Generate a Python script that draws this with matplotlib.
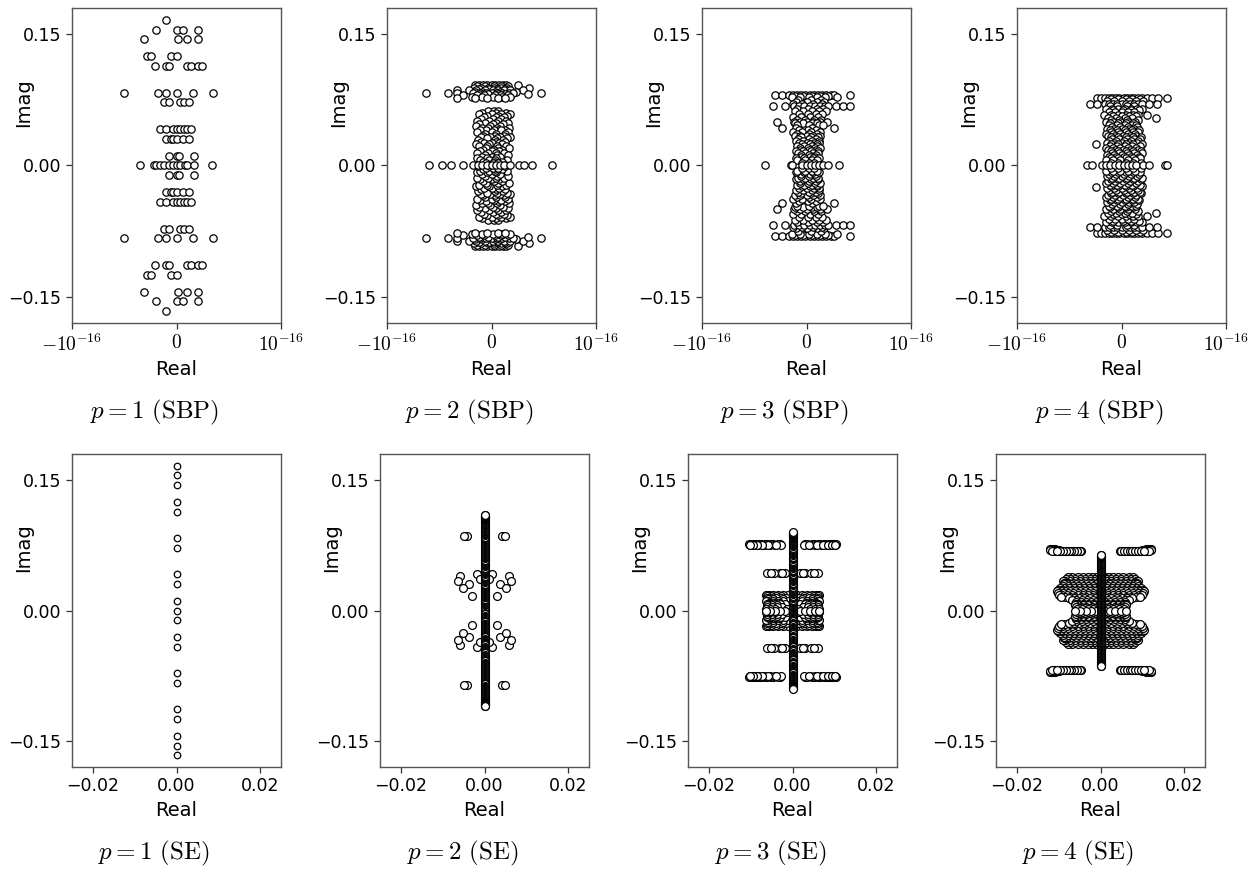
import numpy as np
import matplotlib
matplotlib.use('Agg')
import matplotlib.pyplot as plt

plt.rcParams['mathtext.fontset'] = 'cm'

# === Data: eigenvalues ===
# Top row (SBP): real parts in units of 1e-17, given as (imag, [reals]) rows for imag > 0;
# the conjugate rows (imag < 0) are mirrored.
P1_SBP_ROWS = [
    (0.1664, [-1.05]),
    (0.1553, [-2.0, 0.0, 0.64, 2.07]),
    (0.1443, [-3.12, 0.19, 1.05, 2.07]),
    (0.1248, [-2.8, -2.42, -0.54, 0.0]),
    (0.1137, [-2.1, -1.05, -0.67, 1.05, 1.4, 2.07, 2.42]),
    (0.0832, [-5.03, -1.75, -1.05, 0.0, 1.56, 3.47]),
    (0.0721, [-1.24, -0.67, 0.35, 0.73, 1.21]),
    (0.0416, [-1.56, -1.05, -0.35, 0.03, 0.35, 0.76, 1.05, 1.4]),
    (0.0305, [-0.96, -0.54, -0.29, 0.03, 0.6, 1.21]),
    (0.0111, [-0.76, 0.06, 0.25, 1.69]),
]
P1_SBP_AXIS = [-3.47, -2.2, -2.0, -1.56, -1.15, -0.76, -0.32, 0.03, 0.38, 0.83, 1.05, 1.72, 3.44]

P2_SBP_ROWS = [
    (0.092, [-1.6, -1.2, -0.8, -0.4, 0.0, 0.3, 0.7, 1.1, 1.4, 2.5]),
    (0.0905, [-1.4, -0.6, 0.2, 0.9, 1.6]),
    (0.089, [-1.7, -1.0, -0.3, 0.2, 0.9, 1.5, 3.6]),
    (0.0875, [-1.2, -0.2, 0.5, 1.3]),
    (0.086, [-3.3, -2.2, -1.5, -0.6, 0.1, 0.6, 1.2, 1.8, 3.0]),
    (0.0845, [-1.6, -0.9, 0.3, 0.8, 2.3]),
    (0.083, [-6.3, -4.2, -3.3, -1.8, -1.1, -0.5, 0.0, 0.5, 1.0, 1.7, 2.1, 4.7]),
    (0.0815, [-1.2, -0.3, 0.6, 1.3, 3.5]),
    (0.080, [-2.7, -1.4, -0.7, 0.3, 0.9, 1.6]),
    (0.0785, [-1.9, -0.9, 0.1, 1.0, 1.8]),
    (0.077, [-3.3, -1.6, -0.4, 0.6, 1.3]),
    (0.062, [-0.3, 0.2, 0.6]),
    (0.0605, [-0.9, 0.4, 1.4]),
    (0.059, [-1.2, 0.0, 0.9, 1.8]),
    (0.057, [-0.4, 0.6, 1.5]),
    (0.055, [-0.7, 0.4, 1.2]),
    (0.053, [-1.0, 0.1, 0.9]),
    (0.051, [-1.4, -0.2, 0.6, 1.4]),
    (0.049, [-0.6, 0.4, 1.6]),
    (0.047, [-1.2, 0.1, 1.1]),
    (0.045, [-1.5, -0.1, 0.8]),
    (0.043, [-0.9, -0.3, 0.5, 1.7]),
    (0.041, [-0.5, 0.6, 1.3]),
    (0.040, [-1.1, 0.2, 0.9]),
    (0.038, [-1.4, 0.0, 1.6]),
    (0.036, [-0.6, 0.4, 1.3]),
    (0.034, [-0.8, 0.3, 1.2]),
    (0.033, [-1.0, -0.1, 0.8, 1.8]),
    (0.031, [-0.4, 0.5, 1.5]),
    (0.029, [-1.3, 0.3, 1.1]),
    (0.027, [-1.0, 0.4, 1.3]),
    (0.026, [-0.7, 0.0, 0.7]),
    (0.024, [-1.5, -0.2, 1.0]),
    (0.022, [-1.2, -0.4, 0.5, 1.4]),
    (0.020, [-0.5, 0.6, 1.7]),
    (0.018, [-0.8, 0.2, 1.0]),
    (0.016, [-1.1, 0.0, 0.7]),
    (0.014, [-1.4, -0.3, 0.4, 1.2]),
    (0.012, [-0.6, 0.5, 1.6]),
    (0.010, [-0.9, 0.0, 0.8]),
    (0.008, [-1.4, -0.4, 0.4]),
    (0.006, [-1.1, -0.2, 0.3, 1.5]),
    (0.004, [-0.8, 0.3, 1.0]),
    (0.003, [-0.5, 0.1, 0.6]),
    (0.001, [-1.3, -0.2, 1.3]),
]
P2_SBP_AXIS = [-6.0, -4.7, -3.9, -2.7, -1.8, -1.3, -0.9, -0.4, 0.0, 0.4, 0.8, 1.2, 1.8, 2.6, 3.1, 3.9, 5.8]

P3_SBP_ROWS = [
    (0.081, [-3.0, -2.3, -1.7, -1.3, -0.9, -0.5, -0.1, 0.3, 0.7, 1.1, 1.5, 1.9, 2.3, 2.6, 4.2]),
    (0.0795, [-1.1, -0.3, 0.5, 1.3, 2.1]),
    (0.078, [-1.4, -0.6, 0.2, 1.0, 1.8, 2.9]),
    (0.075, [-0.8, 0.4, 1.4]),
    (0.072, [-1.0, 0.0, 1.0, 1.7]),
    (0.070, [-1.3, -0.4, 0.6, 1.5]),
    (0.068, [-3.2, -2.1, -1.2, -0.7, -0.2, 0.3, 0.8, 1.3, 1.8, 2.1, 2.8, 3.5, 4.2]),
    (0.065, [-0.9, 0.1, 1.0, 1.6]),
    (0.062, [-1.1, -0.3, 0.5, 1.2, 1.9]),
    (0.0585, [-0.7, 0.1, 0.9, 1.5]),
    (0.055, [-1.3, -0.5, 0.3, 1.1]),
    (0.0525, [-0.9, -0.1, 0.7, 1.4]),
    (0.050, [-2.8, -1.2, -0.6, 0.0, 0.6, 1.3, 2.0]),
    (0.048, [-1.1, -0.3, 0.5, 1.0]),
    (0.046, [-0.9, 0.2, 1.2, 1.6]),
    (0.043, [-2.3, -1.0, 0.5, 2.6]),
    (0.0405, [-0.7, 0.1, 0.9]),
    (0.038, [-1.3, -0.4, 0.4, 1.3]),
    (0.036, [-0.9, 0.2, 1.0]),
    (0.034, [-1.1, -0.6, 0.0, 0.6, 1.3]),
    (0.032, [-0.5, 0.4, 1.1]),
    (0.030, [-0.8, 0.2, 0.9]),
    (0.028, [-1.0, -0.3, 0.5, 1.2]),
    (0.026, [-0.7, 0.0, 0.7, 1.2]),
    (0.024, [-0.4, 0.3, 1.0]),
    (0.022, [-0.9, -0.2, 0.5, 1.0]),
    (0.020, [-0.6, 0.1, 0.8, 1.3]),
    (0.018, [-0.6, 0.2, 0.9]),
    (0.016, [-1.0, -0.3, 0.4, 1.1]),
    (0.014, [-0.8, -0.1, 0.6, 1.1]),
    (0.012, [-0.5, 0.2, 0.9]),
    (0.010, [-0.5, 0.3, 0.8]),
    (0.008, [-1.0, -0.2, 0.6, 1.2]),
    (0.006, [-0.9, -0.1, 0.5, 1.0]),
    (0.003, [-0.4, 0.2, 0.7]),
]
P3_SBP_AXIS = [-4.0, -1.5, -1.4, -0.4, 0.0, 0.4, 0.8, 1.2, 1.6, 2.1, 3.1]

P4_SBP_ROWS = [
    (0.0775, [-2.3, -2.0, -1.6, -1.2, -0.9, -0.5, -0.2, 0.2, 0.5, 0.9, 1.2, 1.6, 2.0, 2.4, 2.9, 3.5, 4.4]),
    (0.0760, [-1.0, -0.3, 0.4, 1.0, 1.8]),
    (0.0740, [-1.4, -0.7, 0.0, 0.7, 1.4, 2.1]),
    (0.0700, [-3.0, -2.3, -1.6, -1.2, -0.8, -0.4, 0.0, 0.4, 0.8, 1.2, 1.6, 2.0, 2.6, 3.4]),
    (0.0675, [-1.1, -0.4, 0.5, 1.2]),
    (0.0650, [-1.5, -0.9, -0.3, 0.3, 0.9, 1.5, 2.0]),
    (0.0630, [-0.8, 0.1, 0.9, 1.7]),
    (0.0610, [-1.2, -0.6, 0.0, 0.6, 1.2]),
    (0.0580, [-1.7, -1.0, -0.3, 0.4, 1.1, 1.6, 2.4]),
    (0.0560, [-0.8, 0.0, 0.7, 1.4]),
    (0.0540, [-1.3, -0.5, 0.3, 1.0, 3.3]),
    (0.0520, [-1.0, -0.2, 0.5, 1.6]),
    (0.0500, [-1.5, -0.8, -0.1, 0.6, 1.3]),
    (0.0480, [-1.1, -0.3, 0.4, 1.1]),
    (0.0460, [-1.2, -0.4, 0.3, 1.0, 1.4]),
    (0.0440, [-0.9, -0.1, 0.6, 1.5]),
    (0.0420, [-1.4, -0.7, 0.0, 0.7, 1.2]),
    (0.0400, [-1.1, -0.4, 0.3, 1.0, 1.7]),
    (0.0380, [-1.0, -0.3, 0.4, 1.1, 1.6]),
    (0.0360, [-1.5, -0.8, -0.1, 0.6, 1.3]),
    (0.0340, [-1.3, -0.6, 0.1, 0.8, 1.4]),
    (0.0320, [-1.0, -0.3, 0.4, 1.1, 1.9]),
    (0.0300, [-0.9, -0.2, 0.5, 1.2, 1.8]),
    (0.0280, [-1.2, -0.5, 0.2, 0.9, 1.6]),
    (0.0260, [-1.4, -0.7, 0.0, 0.7, 1.5]),
    (0.0250, [-2.4]),
    (0.0240, [-1.0, -0.3, 0.4, 1.1, 2.0]),
    (0.0220, [-1.1, -0.4, 0.3, 1.0, 1.8]),
    (0.0200, [-1.5, -0.8, -0.1, 0.6, 1.4]),
    (0.0180, [-1.3, -0.6, 0.1, 0.8, 1.6]),
    (0.0160, [-1.0, -0.3, 0.4, 1.1, 1.9]),
    (0.0140, [-0.9, -0.2, 0.5, 1.2, 2.0]),
    (0.0120, [-1.4, -0.7, 0.0, 0.7, 1.5]),
    (0.0100, [-1.2, -0.5, 0.2, 0.9, 1.7]),
    (0.0080, [-1.0, -0.3, 0.4, 1.1, 1.8]),
    (0.0060, [-1.5, -0.8, -0.1, 0.6, 1.3]),
    (0.0030, [-1.0, -0.3, 0.4, 1.1, 1.9]),
]
P4_SBP_AXIS = [-3.3, -2.8, -1.9, -1.5, -1.1, -0.6, -0.2, 0.2, 0.6, 1.0, 1.4, 2.1, 2.6, 4.2, 4.4]

# Bottom row (SE): spectra symmetric in both axes; rows give |real| for imag >= 0,
# columns give imag >= 0 of eigenvalues lying on the imaginary axis.
P1_SE_COLUMN = [0.0, 0.0111, 0.0305, 0.0416, 0.0721, 0.0832, 0.1137, 0.1248, 0.1443, 0.1553, 0.1664]
P1_SE_ROWS = []

P2_SE_COLUMN = [0.0, 0.001, 0.002, 0.003, 0.004, 0.006, 0.007, 0.008, 0.009, 0.010, 0.011, 0.012,
                0.013, 0.015, 0.016, 0.017, 0.018, 0.019, 0.020, 0.021, 0.022, 0.024, 0.025, 0.026,
                0.027, 0.028, 0.029, 0.030, 0.031, 0.033, 0.034, 0.035, 0.036, 0.037, 0.038, 0.039,
                0.040, 0.042, 0.043, 0.044, 0.045, 0.046, 0.047, 0.048, 0.049, 0.051, 0.052, 0.053,
                0.054, 0.055, 0.056, 0.057, 0.058, 0.060, 0.061, 0.062, 0.063, 0.064, 0.065, 0.066,
                0.067, 0.069, 0.070, 0.071, 0.072, 0.073, 0.074, 0.075, 0.076, 0.078, 0.079, 0.080,
                0.081, 0.082, 0.083, 0.084, 0.085, 0.087, 0.088, 0.089, 0.090, 0.091, 0.092, 0.093,
                0.094, 0.095, 0.096, 0.097, 0.098, 0.099, 0.100, 0.101, 0.102, 0.103, 0.104, 0.105,
                0.1055, 0.106, 0.1065, 0.107, 0.1075, 0.108, 0.1085, 0.109, 0.1095, 0.110]
P2_SE_ROWS = [
    (0.0853, [0.0042, 0.0049]),
    (0.0419, [0.0018]),
    (0.0396, [0.0058]),
    (0.0365, [0.0010]),
    (0.0343, [0.0063]),
    (0.0301, [0.0037]),
    (0.0263, [0.0052]),
    (0.0167, [0.0031]),
]

P3_SE_COLUMN = [0.0, 0.001, 0.002, 0.004, 0.005, 0.006, 0.007, 0.009, 0.010, 0.011, 0.012, 0.014,
                0.015, 0.016, 0.017, 0.019, 0.020, 0.021, 0.022, 0.024, 0.025, 0.026, 0.027, 0.029,
                0.030, 0.031, 0.032, 0.034, 0.035, 0.036, 0.037, 0.039, 0.040, 0.041, 0.042, 0.044,
                0.045, 0.046, 0.047, 0.049, 0.050, 0.051, 0.052, 0.054, 0.055, 0.056, 0.057, 0.059,
                0.060, 0.061, 0.062, 0.064, 0.065, 0.066, 0.067, 0.069, 0.070, 0.071, 0.072, 0.074,
                0.075, 0.076, 0.077, 0.078, 0.079, 0.080, 0.081, 0.082, 0.083, 0.084, 0.085, 0.086,
                0.0865, 0.087, 0.0875, 0.088, 0.0885, 0.089, 0.0895, 0.090]
P3_SE_ROWS = [
    (0.0768, [0.0031, 0.0047, 0.0062, 0.0076, 0.0088, 0.0097]),
    (0.0760, [0.0035, 0.0051, 0.0066, 0.0080, 0.0091, 0.0099, 0.0104]),
    (0.0755, [0.0028, 0.0043, 0.0055, 0.0069, 0.0083, 0.0093, 0.0101]),
    (0.0750, [0.0039, 0.0058, 0.0073, 0.0086, 0.0095, 0.0102]),
    (0.0434, [0.0018, 0.0030, 0.0045, 0.0060]),
    (0.0430, [0.0024, 0.0052]),
    (0.0180, [0.0010, 0.0022, 0.0034, 0.0046, 0.0057, 0.0064]),
    (0.0162, [0.0027, 0.0040, 0.0052, 0.0061]),
    (0.0145, [0.0016, 0.0028, 0.0040, 0.0052, 0.0062]),
    (0.0128, [0.0022, 0.0046, 0.0058]),
    (0.0110, [0.0011, 0.0023, 0.0035, 0.0047, 0.0058, 0.0064]),
    (0.0092, [0.0032, 0.0044, 0.0056]),
    (0.0075, [0.0017, 0.0029, 0.0041, 0.0053, 0.0062]),
    (0.0058, [0.0037, 0.0050, 0.0061]),
    (0.0040, [0.0024, 0.0036, 0.0048, 0.0060]),
    (0.0020, [0.0013, 0.0042, 0.0054, 0.0063]),
    (0.0000, [0.0018, 0.0030, 0.0042, 0.0055, 0.0064]),
]

P4_SE_COLUMN = [0.0, 0.001, 0.002, 0.003, 0.004, 0.005, 0.006, 0.007, 0.008, 0.009, 0.010, 0.011,
                0.012, 0.013, 0.014, 0.015, 0.016, 0.017, 0.018, 0.019, 0.020, 0.021, 0.022, 0.023,
                0.024, 0.025, 0.026, 0.027, 0.028, 0.029, 0.030, 0.031, 0.032, 0.033, 0.034, 0.035,
                0.036, 0.037, 0.038, 0.039, 0.040, 0.041, 0.042, 0.043, 0.044, 0.045, 0.046, 0.047,
                0.048, 0.049, 0.050, 0.051, 0.052, 0.053, 0.054, 0.055, 0.056, 0.057, 0.058, 0.059,
                0.060, 0.061, 0.062, 0.0625, 0.063, 0.0635, 0.064]
P4_SE_ROWS = [
    (0.0705, [0.0108, 0.0114, 0.0119, 0.0122]),
    (0.0698, [0.0100, 0.0106, 0.0112, 0.0117, 0.0121]),
    (0.0688, [0.0046, 0.0053, 0.0060, 0.0066, 0.0072, 0.0078, 0.0083, 0.0088, 0.0092, 0.0096, 0.0100, 0.0108, 0.0116]),
    (0.0680, [0.0050, 0.0057, 0.0064, 0.0070, 0.0076, 0.0082, 0.0090, 0.0098, 0.0104]),
    (0.0380, [0.0010, 0.0020, 0.0031, 0.0043, 0.0055, 0.0067, 0.0078]),
    (0.0360, [0.0006, 0.0016, 0.0026, 0.0037, 0.0049, 0.0061, 0.0072, 0.0083]),
    (0.0340, [0.0015, 0.0026, 0.0038, 0.0050, 0.0062, 0.0074, 0.0085, 0.0090]),
    (0.0320, [0.0008, 0.0020, 0.0031, 0.0043, 0.0055, 0.0066, 0.0078, 0.0087]),
    (0.0300, [0.0011, 0.0022, 0.0034, 0.0046, 0.0058, 0.0070, 0.0081, 0.0088]),
    (0.0280, [0.0006, 0.0018, 0.0030, 0.0041, 0.0053, 0.0065, 0.0077, 0.0090]),
    (0.0260, [0.0016, 0.0028, 0.0040, 0.0052, 0.0064, 0.0076, 0.0087, 0.0097]),
    (0.0240, [0.0009, 0.0021, 0.0033, 0.0045, 0.0057, 0.0069, 0.0080, 0.0091, 0.0101]),
    (0.0220, [0.0012, 0.0024, 0.0036, 0.0048, 0.0060, 0.0072, 0.0084, 0.0095, 0.0104]),
    (0.0200, [0.0006, 0.0018, 0.0030, 0.0042, 0.0054, 0.0066, 0.0078, 0.0090, 0.0101]),
    (0.0180, [0.0018, 0.0030, 0.0042, 0.0055, 0.0068, 0.0080, 0.0092, 0.0100]),
    (0.0160, [0.0009, 0.0021, 0.0034, 0.0047, 0.0060, 0.0073, 0.0085, 0.0094]),
    (0.0140, [0.0013, 0.0026, 0.0039, 0.0052, 0.0064, 0.0076]),
    (0.0120, [0.0007, 0.0019, 0.0032, 0.0045, 0.0058, 0.0068]),
    (0.0100, [0.0010, 0.0022, 0.0034, 0.0046, 0.0058]),
    (0.0080, [0.0005, 0.0017, 0.0029, 0.0041, 0.0053, 0.0061]),
    (0.0060, [0.0016, 0.0029, 0.0042, 0.0055, 0.0062]),
    (0.0045, [0.0008, 0.0021, 0.0034, 0.0047, 0.0058]),
    (0.0030, [0.0012, 0.0025, 0.0038, 0.0050]),
    (0.0015, [0.0006, 0.0019, 0.0031, 0.0044, 0.0057]),
    (0.0000, [0.0010, 0.0022, 0.0035, 0.0048, 0.0061]),
]

SBP_LABELS = [r'$p = 1\ \mathrm{(SBP)}$', r'$p = 2\ \mathrm{(SBP)}$',
              r'$p = 3\ \mathrm{(SBP)}$', r'$p = 4\ \mathrm{(SBP)}$']
SE_LABELS = [r'$p = 1\ \mathrm{(SE)}$', r'$p = 2\ \mathrm{(SE)}$',
             r'$p = 3\ \mathrm{(SE)}$', r'$p = 4\ \mathrm{(SE)}$']

REAL_UNIT_SBP = 1e-17


# === Helpers: expand symmetric spectra ===
def conjugate_points(rows, axis_reals, unit):
    xs, ys = [], []
    for im, reals in rows:
        for r in reals:
            xs += [r * unit, r * unit]
            ys += [im, -im]
    for r in axis_reals:
        xs.append(r * unit)
        ys.append(0.0)
    return np.array(xs), np.array(ys)


def quadrant_points(rows, column):
    xs, ys = [], []
    for im, reals in rows:
        for r in reals:
            for sy in ([1, -1] if im > 0 else [1]):
                xs += [r, -r]
                ys += [sy * im, sy * im]
    for im in column:
        for s in ([1, -1] if im > 0 else [1]):
            xs.append(0.0)
            ys.append(s * im)
    return np.array(xs), np.array(ys)


def style_axes(ax):
    for sp in ax.spines.values():
        sp.set_color('#555555')
        sp.set_linewidth(1.0)
    ax.tick_params(axis='both', direction='out', length=4, width=0.9, color='#333333',
                   labelsize=12.5, top=False, right=False)
    ax.set_ylim(-0.18, 0.18)
    ax.set_yticks([-0.15, 0.0, 0.15])
    ax.set_yticklabels(['\u22120.15', '0.00', '0.15'])
    ax.set_xlabel('Real', fontsize=14)
    ax.set_ylabel('Imag', fontsize=14, va='center')
    ax.yaxis.set_label_coords(-48 / 209, 0.70)


fig = plt.figure(figsize=(12.58, 8.71), dpi=100)
W, H = 1258.0, 871.0

top_x = [72, 387, 702, 1017]
bot_x = [72, 380, 688, 996]
top_cap_x = [155, 470, 785, 1100]
bot_cap_x = [154, 463, 771, 1078]

sbp_data = [(P1_SBP_ROWS, P1_SBP_AXIS), (P2_SBP_ROWS, P2_SBP_AXIS),
            (P3_SBP_ROWS, P3_SBP_AXIS), (P4_SBP_ROWS, P4_SBP_AXIS)]
se_data = [(P1_SE_ROWS, P1_SE_COLUMN), (P2_SE_ROWS, P2_SE_COLUMN),
           (P3_SE_ROWS, P3_SE_COLUMN), (P4_SE_ROWS, P4_SE_COLUMN)]

# --- top row: SBP ---
for i, (rows, axis_reals) in enumerate(sbp_data):
    ax = fig.add_axes([top_x[i] / W, 1 - 323 / H, 209 / W, 315 / H])
    x, y = conjugate_points(rows, axis_reals, REAL_UNIT_SBP)
    ax.scatter(x, y, s=28, facecolors='white', edgecolors='black', linewidths=0.9, zorder=3)
    ax.set_xlim(-1e-16, 1e-16)
    ax.set_xticks([-1e-16, 0, 1e-16])
    style_axes(ax)
    ax.set_xticklabels([r'$-10^{-16}$', r'$0$', r'$10^{-16}$'], fontsize=14)
    fig.text(top_cap_x[i] / W, 1 - 412 / H, SBP_LABELS[i], ha='center', va='center', fontsize=18)

# --- bottom row: SE ---
for i, (rows, column) in enumerate(se_data):
    ax = fig.add_axes([bot_x[i] / W, 1 - 767 / H, 209 / W, 313 / H])
    x, y = quadrant_points(rows, column)
    ax.scatter(x, y, s=22 if i == 0 else 32, facecolors='white', edgecolors='black',
               linewidths=0.9, zorder=3)
    ax.set_xlim(-0.025, 0.025)
    ax.set_xticks([-0.02, 0.0, 0.02])
    ax.set_xticklabels(['\u22120.02', '0.00', '0.02'])
    style_axes(ax)
    fig.text(bot_cap_x[i] / W, 1 - 853 / H, SE_LABELS[i], ha='center', va='center', fontsize=18)

plt.savefig('out.png', dpi=100)
plt.close()
